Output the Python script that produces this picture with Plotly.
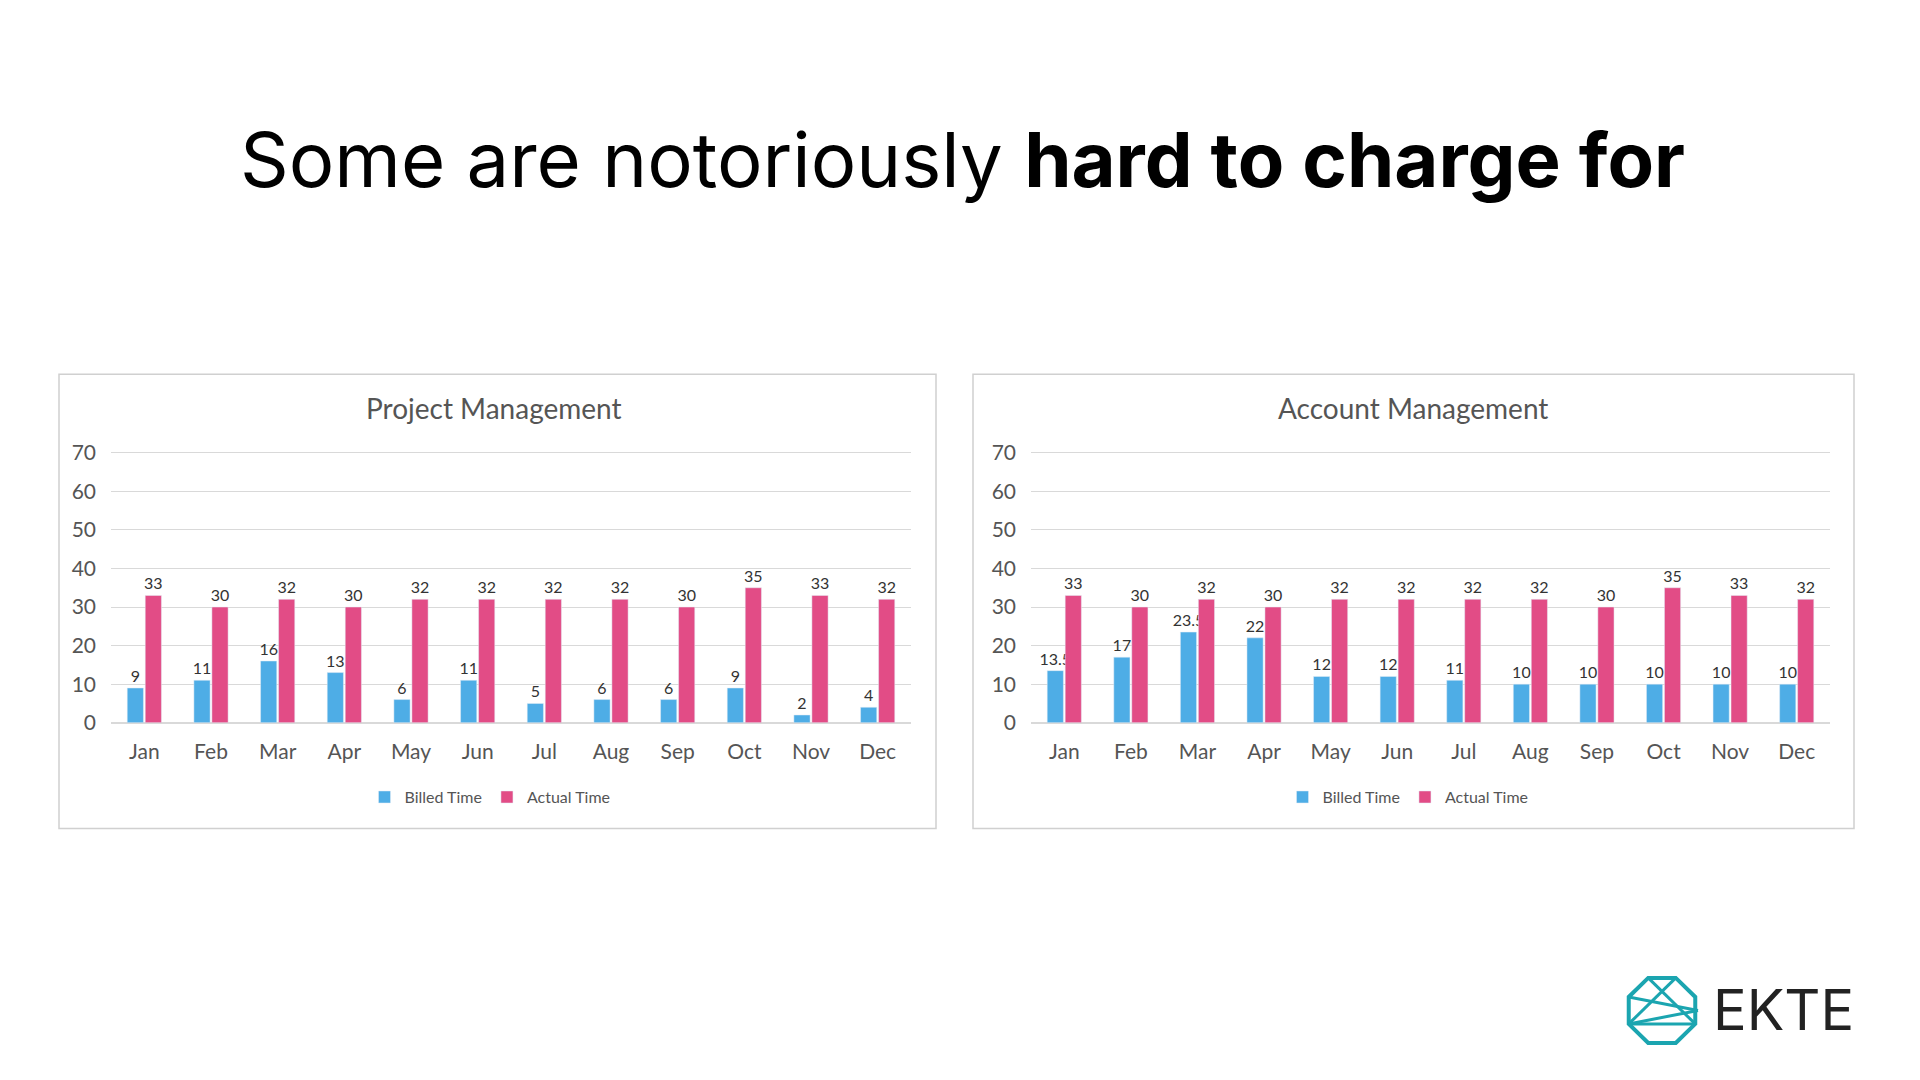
import math

import plotly.graph_objects as go

months = ["Jan", "Feb", "Mar", "Apr", "May", "Jun", "Jul", "Aug", "Sep", "Oct", "Nov", "Dec"]
pm_billed = [9, 11, 16, 13, 6, 11, 5, 6, 6, 9, 2, 4]
pm_actual = [33, 30, 32, 30, 32, 32, 32, 32, 30, 35, 33, 32]
am_billed = [13.5, 17, 23.5, 22, 12, 12, 11, 10, 10, 10, 10, 10]
am_actual = [33, 30, 32, 30, 32, 32, 32, 32, 30, 35, 33, 32]

BLUE = "#4EADE6"
PINK = "#E24C86"
W, H = 1920, 1080

fig = go.Figure()


def add_chart(billed, actual, xa, ya, legend):
    for name, vals, col in [("Billed Time", billed, BLUE), ("Actual Time", actual, PINK)]:
        fig.add_trace(go.Bar(
            x=months, y=vals, name=name, marker_color=col,
            text=[f"{v:g}" for v in vals], textposition="outside",
            constraintext="none",
            textfont=dict(size=16, color="#333"), cliponaxis=False,
            xaxis=xa, yaxis=ya, legend=legend,
        ))


add_chart(pm_billed, pm_actual, "x", "y", "legend")
add_chart(am_billed, am_actual, "x2", "y2", "legend2")

axis_font = dict(family="Lato", size=21, color="#555")
y_common = dict(range=[0, 70.3], dtick=10, showgrid=True, gridcolor="#d9d9d9",
                zeroline=True, zerolinecolor="#d9d9d9", tickfont=axis_font,
                ticks="", ticklabelstandoff=14)
x_common = dict(showline=False, tickfont=axis_font, ticks="", ticklabelstandoff=14)

fig.update_layout(
    width=W, height=H,
    margin=dict(l=0, r=0, t=0, b=0),
    plot_bgcolor="white", paper_bgcolor="white",
    font=dict(family="Lato"),
    barmode="group", bargap=0.46, bargroupgap=0.1,
    xaxis=dict(domain=[103 / W, 903 / W], anchor="y", **x_common),
    yaxis=dict(domain=[1 - 718 / H, 1 - 441 / H], anchor="x", **y_common),
    xaxis2=dict(domain=[1023 / W, 1822 / W], anchor="y2", **x_common),
    yaxis2=dict(domain=[1 - 718 / H, 1 - 441 / H], anchor="x2", **y_common),
    legend=dict(orientation="h", x=482 / W, y=1 - 794 / H, xanchor="center", yanchor="middle",
                font=dict(family="Lato", size=16, color="#555")),
    legend2=dict(orientation="h", x=1400 / W, y=1 - 794 / H, xanchor="center", yanchor="middle",
                 font=dict(family="Lato", size=16, color="#555")),
    showlegend=True,
)

# panel frames
for x0, x1 in [(51, 928), (965, 1846)]:
    fig.add_shape(type="rect", xref="paper", yref="paper",
                  x0=x0 / W, x1=x1 / W, y0=1 - 826 / H, y1=1 - 362 / H,
                  line=dict(color="#d0d0d0", width=1.5), fillcolor="rgba(0,0,0,0)")

annos = [
    dict(text="Some are notoriously <b>hard to charge for</b>", x=0.497, y=1 - 142 / H,
         font=dict(family="Inter", size=76, color="black")),
    dict(text="Project Management", x=486 / W, y=1 - 396 / H,
         font=dict(family="Lato", size=28, color="#555")),
    dict(text="Account Management", x=1405 / W, y=1 - 396 / H,
         font=dict(family="Lato", size=28, color="#555")),
    dict(text="EKTE", x=1703 / W, y=1 - 1012 / H, xanchor="left",
         font=dict(family="Inter", size=56, color="#222")),
]
for a in annos:
    a.setdefault("xanchor", "center")
    fig.add_annotation(xref="paper", yref="paper", yanchor="middle", showarrow=False, **a)

# logo octagon
cx, cy, r = 1654, 1012, 36
pts = [(cx + r * math.cos(math.radians(22.5 + 45 * i)), cy + r * math.sin(math.radians(22.5 + 45 * i)))
       for i in range(8)]
path = "M " + " L ".join(f"{px / W},{1 - py / H}" for px, py in pts) + " Z"
fig.add_shape(type="path", xref="paper", yref="paper", path=path,
              line=dict(color="#1BA5B0", width=4))
inner = [(pts[5], pts[0]), (pts[0], pts[3]), (pts[3], pts[6]), (pts[4], (cx + r, cy)), (pts[3], (cx + r, cy))]
for (a, b) in inner:
    fig.add_shape(type="line", xref="paper", yref="paper",
                  x0=a[0] / W, y0=1 - a[1] / H, x1=b[0] / W, y1=1 - b[1] / H,
                  line=dict(color="#1BA5B0", width=3))

fig.write_html("out.html")
